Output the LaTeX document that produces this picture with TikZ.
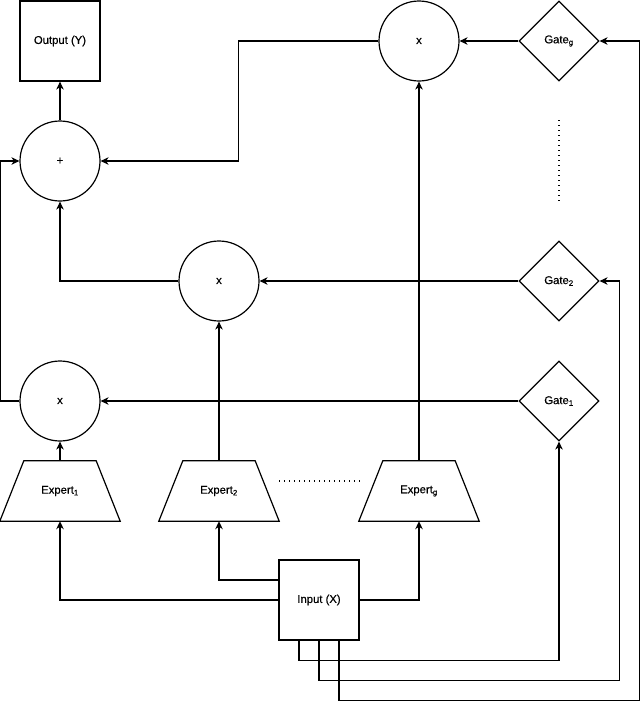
\documentclass[tikz,border=0pt]{standalone}
\usepackage{fontspec}
\setmainfont{Liberation Sans}[FakeBold=0.4]
\usetikzlibrary{shapes.geometric,arrows.meta}
\begin{document}
\begin{tikzpicture}[x=1pt,y=-1pt,
  every node/.style={font=\fontsize{11.3}{13}\selectfont, inner sep=0pt},
  box/.style={draw, line width=1.2pt, minimum width=80pt, minimum height=80pt},
  circ/.style={draw, circle, line width=1.2pt, minimum size=80pt},
  gatebox/.style={draw, diamond, aspect=1, line width=1.2pt, minimum size=80pt},
  expbox/.style={minimum width=120pt, minimum height=60pt},
  wire/.style={line width=1.2pt},
  arr/.style={wire, -{Stealth[length=8pt,width=7.5pt,inset=2.5pt]}},
  dots/.style={line width=1.2pt, dash pattern=on 1.2pt off 3.8pt}]
\useasboundingbox (0,0) rectangle (640,702);
% nodes
\node[box] (out) at (60,41) {Output (Y)};
\node[circ] (plus) at (60,161) {+};
\node[circ] (xt) at (419,41) {x};
\node[gatebox] (gg) at (559,41) {Gate\textsubscript{g}};
\node[circ] (xm) at (219,281) {x};
\node[gatebox] (g2) at (559,281) {Gate\textsubscript{2}};
\node[circ] (xb) at (60,401) {x};
\node[gatebox] (g1) at (559,401) {Gate\textsubscript{1}};
\node[expbox] (e1) at (60,491) {Expert\textsubscript{1}};
\node[expbox] (e2) at (219,491) {Expert\textsubscript{2}};
\node[expbox] (eg) at (419,491) {Expert\textsubscript{g}};
\node[box] (in) at (319,600) {Input (X)};
% trapezoids
\foreach \e in {e1,e2,eg}{
  \draw[wire, line join=miter] (\e.south west) -- ([xshift=24pt]\e.north west) -- ([xshift=-24pt]\e.north east) -- (\e.south east) -- cycle;
}
% dotted separators
\coordinate (dv1) at (559,120);
\coordinate (dv2) at (559,201);
\coordinate (dh1) at (279,481);
\coordinate (dh2) at (361,481);
\draw[dots] (dv1) -- (dv2);
\draw[dots] (dh1) -- (dh2);
% connectors
\draw[arr] (plus) -- (out);
\draw[arr] (xt.west) -- ++(-140,0) |- (plus.east);
\draw[arr] (xm.west) -| (plus.south);
\draw[arr] (xb.west) -- ++(-19,0) |- (plus.west);
\draw[arr] (gg.west) -- (xt.east);
\draw[arr] (g2.west) -- (xm.east);
\draw[arr] (g1.west) -- (xb.east);
\draw[arr] (e1.north) -- (xb.south);
\draw[arr] (e2.north) -- (xm.south);
\draw[arr] (eg.north) -- (xt.south);
\draw[arr] ([yshift=20pt]in.west) -| (e2.south);
\draw[arr] (in.west) -| (e1.south);
\draw[arr] (in.east) -| (eg.south);
\draw[arr] ([xshift=-20pt]in.south) -- ++(0,20) -| (g1.south);
\draw[arr] (in.south) -- ++(0,40) -| ([xshift=20pt]g2.east) -- (g2.east);
\draw[arr] ([xshift=20pt]in.south) -- ++(0,60) -| ([xshift=40pt]gg.east) -- (gg.east);
\end{tikzpicture}
\end{document}
